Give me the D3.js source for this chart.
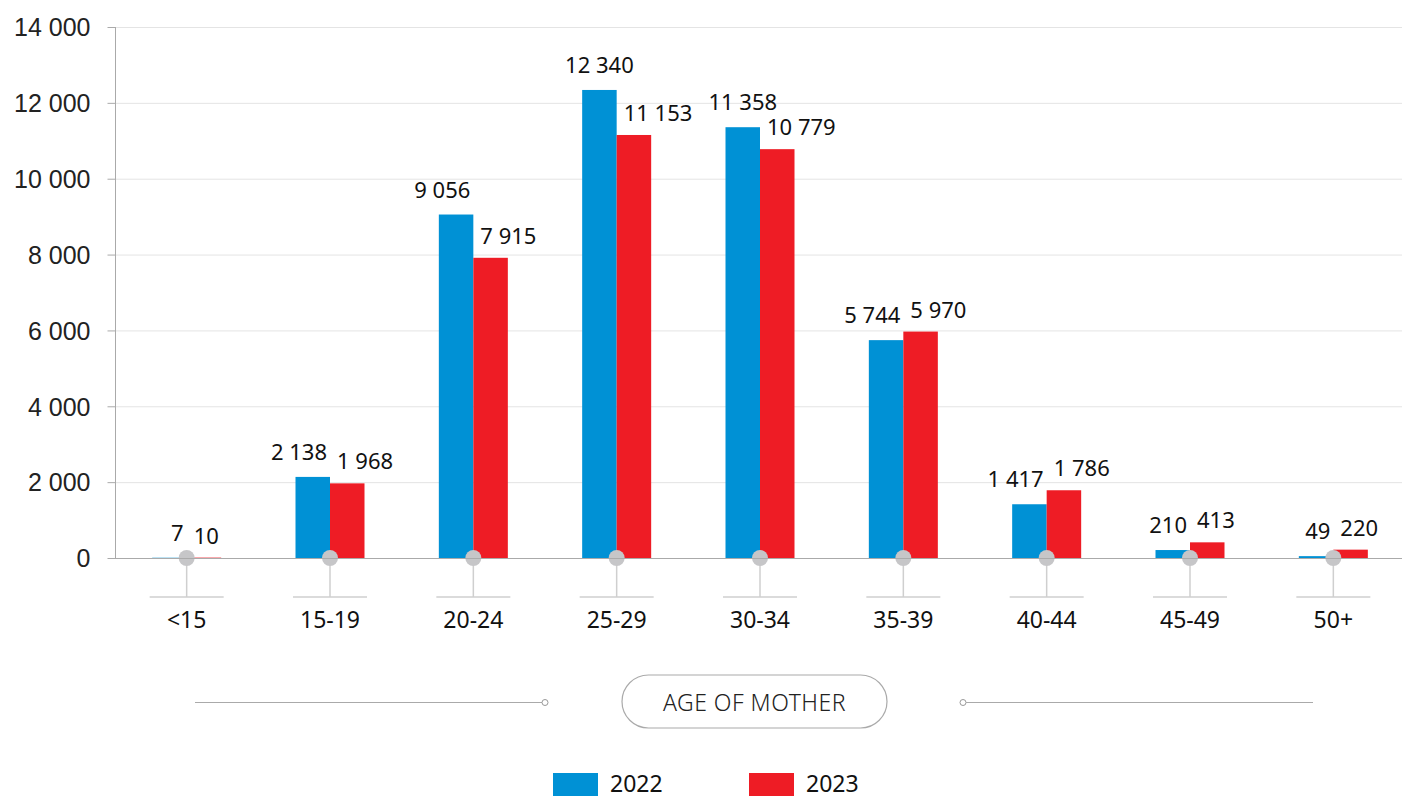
<!DOCTYPE html>
<html>
<head>
<meta charset="utf-8">
<script src="https://cdn.jsdelivr.net/npm/d3@7"></script>
<style>
  body { margin: 0; background: #fff; }
  svg { display: block; font-family: "Noto Sans", "Open Sans", sans-serif; }
  .yTick text { font-size: 25px; font-weight: 300; fill: #222; }
  .catLabel { font-size: 23px; fill: #111; }
  .valLabel { font-size: 22px; fill: #111; }
  .axisTitle { font-size: 23px; font-weight: 300; fill: #222; letter-spacing: 0.5px; }
  .legendText { font-size: 23px; fill: #111; }
</style>
</head>
<body>
<svg class="chart"></svg>
<script>
var ageGroups = ["<15", "15-19", "20-24", "25-29", "30-34", "35-39", "40-44", "45-49", "50+"];
var series = ["2022", "2023"];
var births2022 = [7, 2138, 9056, 12340, 11358, 5744, 1417, 210, 49];
var births2023 = [10, 1968, 7915, 11153, 10779, 5970, 1786, 413, 220];
var yTicks = [0, 2000, 4000, 6000, 8000, 10000, 12000, 14000];
var colors = ["#0091d5", "#ee1c25"];

var width = 1402, height = 796;
var plotLeft = 115, plotRight = 1405, plotTop = 27, baseY = 558;

var svg = d3.select(".chart").attr("width", width).attr("height", height);

var x = d3.scaleBand().domain(ageGroups).range([plotLeft, plotRight]).padding(0);
var xInner = d3.scaleBand().domain(series).range([-34.5, 34.5]);
var y = d3.scaleLinear().domain([0, 14000]).range([baseY, plotTop]);

var fmt = function(v) { return d3.format(",")(v).replace(/,/g, " "); };

// grid lines
svg.append("g")
   .selectAll("line")
   .data(yTicks.slice(1))
   .enter().append("line")
   .attr("x1", plotLeft).attr("x2", width)
   .attr("y1", function(d) { return y(d) + 0.5; })
   .attr("y2", function(d) { return y(d) + 0.5; })
   .attr("stroke", "#e4e4e4").attr("stroke-width", 1);

// y axis
var yAxis = svg.append("g")
   .attr("class", "yTick")
   .attr("transform", "translate(" + (plotLeft + 0.5) + ",0)")
   .call(d3.axisLeft(y).tickValues(yTicks).tickSize(8).tickPadding(17).tickFormat(fmt));
yAxis.select(".domain").attr("stroke", "#aaa").attr("d", "M0," + plotTop + "V" + baseY);
yAxis.selectAll(".tick line").attr("stroke", "#aaa");
yAxis.selectAll(".tick text").attr("dy", "0.35em");

// bars
var rows = ageGroups.map(function(g, i) { return { group: g, values: [births2022[i], births2023[i]] }; });

var groups = svg.append("g").selectAll("g")
   .data(rows)
   .enter().append("g")
   .attr("transform", function(d) { return "translate(" + (x(d.group) + x.bandwidth() / 2) + ",0)"; });

groups.selectAll("rect")
   .data(function(d) { return d.values.map(function(v, j) { return { s: series[j], v: v, j: j }; }); })
   .enter().append("rect")
   .attr("x", function(d) { return xInner(d.s); })
   .attr("width", xInner.bandwidth())
   .attr("y", function(d) { return y(d.v); })
   .attr("height", function(d) { return baseY - y(d.v); })
   .attr("fill", function(d) { return colors[d.j]; });

// x axis line
svg.append("line")
   .attr("x1", plotLeft).attr("x2", width)
   .attr("y1", baseY + 0.5).attr("y2", baseY + 0.5)
   .attr("stroke", "#aaa").attr("stroke-width", 1);

// tick decorations
groups.append("line")
   .attr("x1", 0).attr("x2", 0).attr("y1", baseY).attr("y2", 597)
   .attr("stroke", "#cfcfcf").attr("stroke-width", 1.5);
groups.append("line")
   .attr("x1", -37).attr("x2", 37).attr("y1", 597).attr("y2", 597)
   .attr("stroke", "#cfcfcf").attr("stroke-width", 1.5);
groups.append("circle")
   .attr("cx", 0).attr("cy", baseY).attr("r", 8)
   .attr("fill", "#c6c6c8");

groups.append("text")
   .attr("class", "catLabel")
   .attr("y", 628)
   .attr("text-anchor", "middle")
   .text(function(d) { return d.group; });

// value labels
groups.append("text")
   .attr("class", "valLabel")
   .attr("x", function(d) { return d.values[0] >= 10000 ? xInner("2022") + xInner.bandwidth() / 2 : -3; })
   .attr("y", function(d) { return y(d.values[0]) - 17; })
   .attr("text-anchor", function(d) { return d.values[0] >= 10000 ? "middle" : "end"; })
   .text(function(d) { return fmt(d.values[0]); });

groups.append("text")
   .attr("class", "valLabel")
   .attr("x", 7)
   .attr("y", function(d) { return y(d.values[1]) - 14; })
   .attr("text-anchor", "start")
   .text(function(d) { return fmt(d.values[1]); });

// axis title
var titleG = svg.append("g");
titleG.append("line").attr("x1", 195).attr("x2", 542).attr("y1", 702.5).attr("y2", 702.5)
      .attr("stroke", "#aaa").attr("stroke-width", 1.2);
titleG.append("circle").attr("cx", 545).attr("cy", 702.5).attr("r", 3)
      .attr("fill", "#fff").attr("stroke", "#999").attr("stroke-width", 1);
titleG.append("circle").attr("cx", 963).attr("cy", 702.5).attr("r", 3)
      .attr("fill", "#fff").attr("stroke", "#999").attr("stroke-width", 1);
titleG.append("line").attr("x1", 966).attr("x2", 1313).attr("y1", 702.5).attr("y2", 702.5)
      .attr("stroke", "#aaa").attr("stroke-width", 1.2);
titleG.append("rect").attr("x", 622).attr("y", 675).attr("width", 265).attr("height", 53)
      .attr("rx", 26.5).attr("fill", "#fff").attr("stroke", "#aaa").attr("stroke-width", 1.2);
titleG.append("text").attr("class", "axisTitle")
      .attr("x", 754.5).attr("y", 710.5).attr("text-anchor", "middle")
      .text("AGE OF MOTHER");

// legend
var legend = svg.append("g").selectAll("g")
   .data(series)
   .enter().append("g")
   .attr("transform", function(d, i) { return "translate(" + (553 + i * 196) + ",773)"; });
legend.append("rect").attr("width", 45).attr("height", 24)
      .attr("fill", function(d, i) { return colors[i]; });
legend.append("text").attr("class", "legendText")
      .attr("x", 57).attr("y", 19)
      .text(function(d) { return d; });
</script>
</body>
</html>
